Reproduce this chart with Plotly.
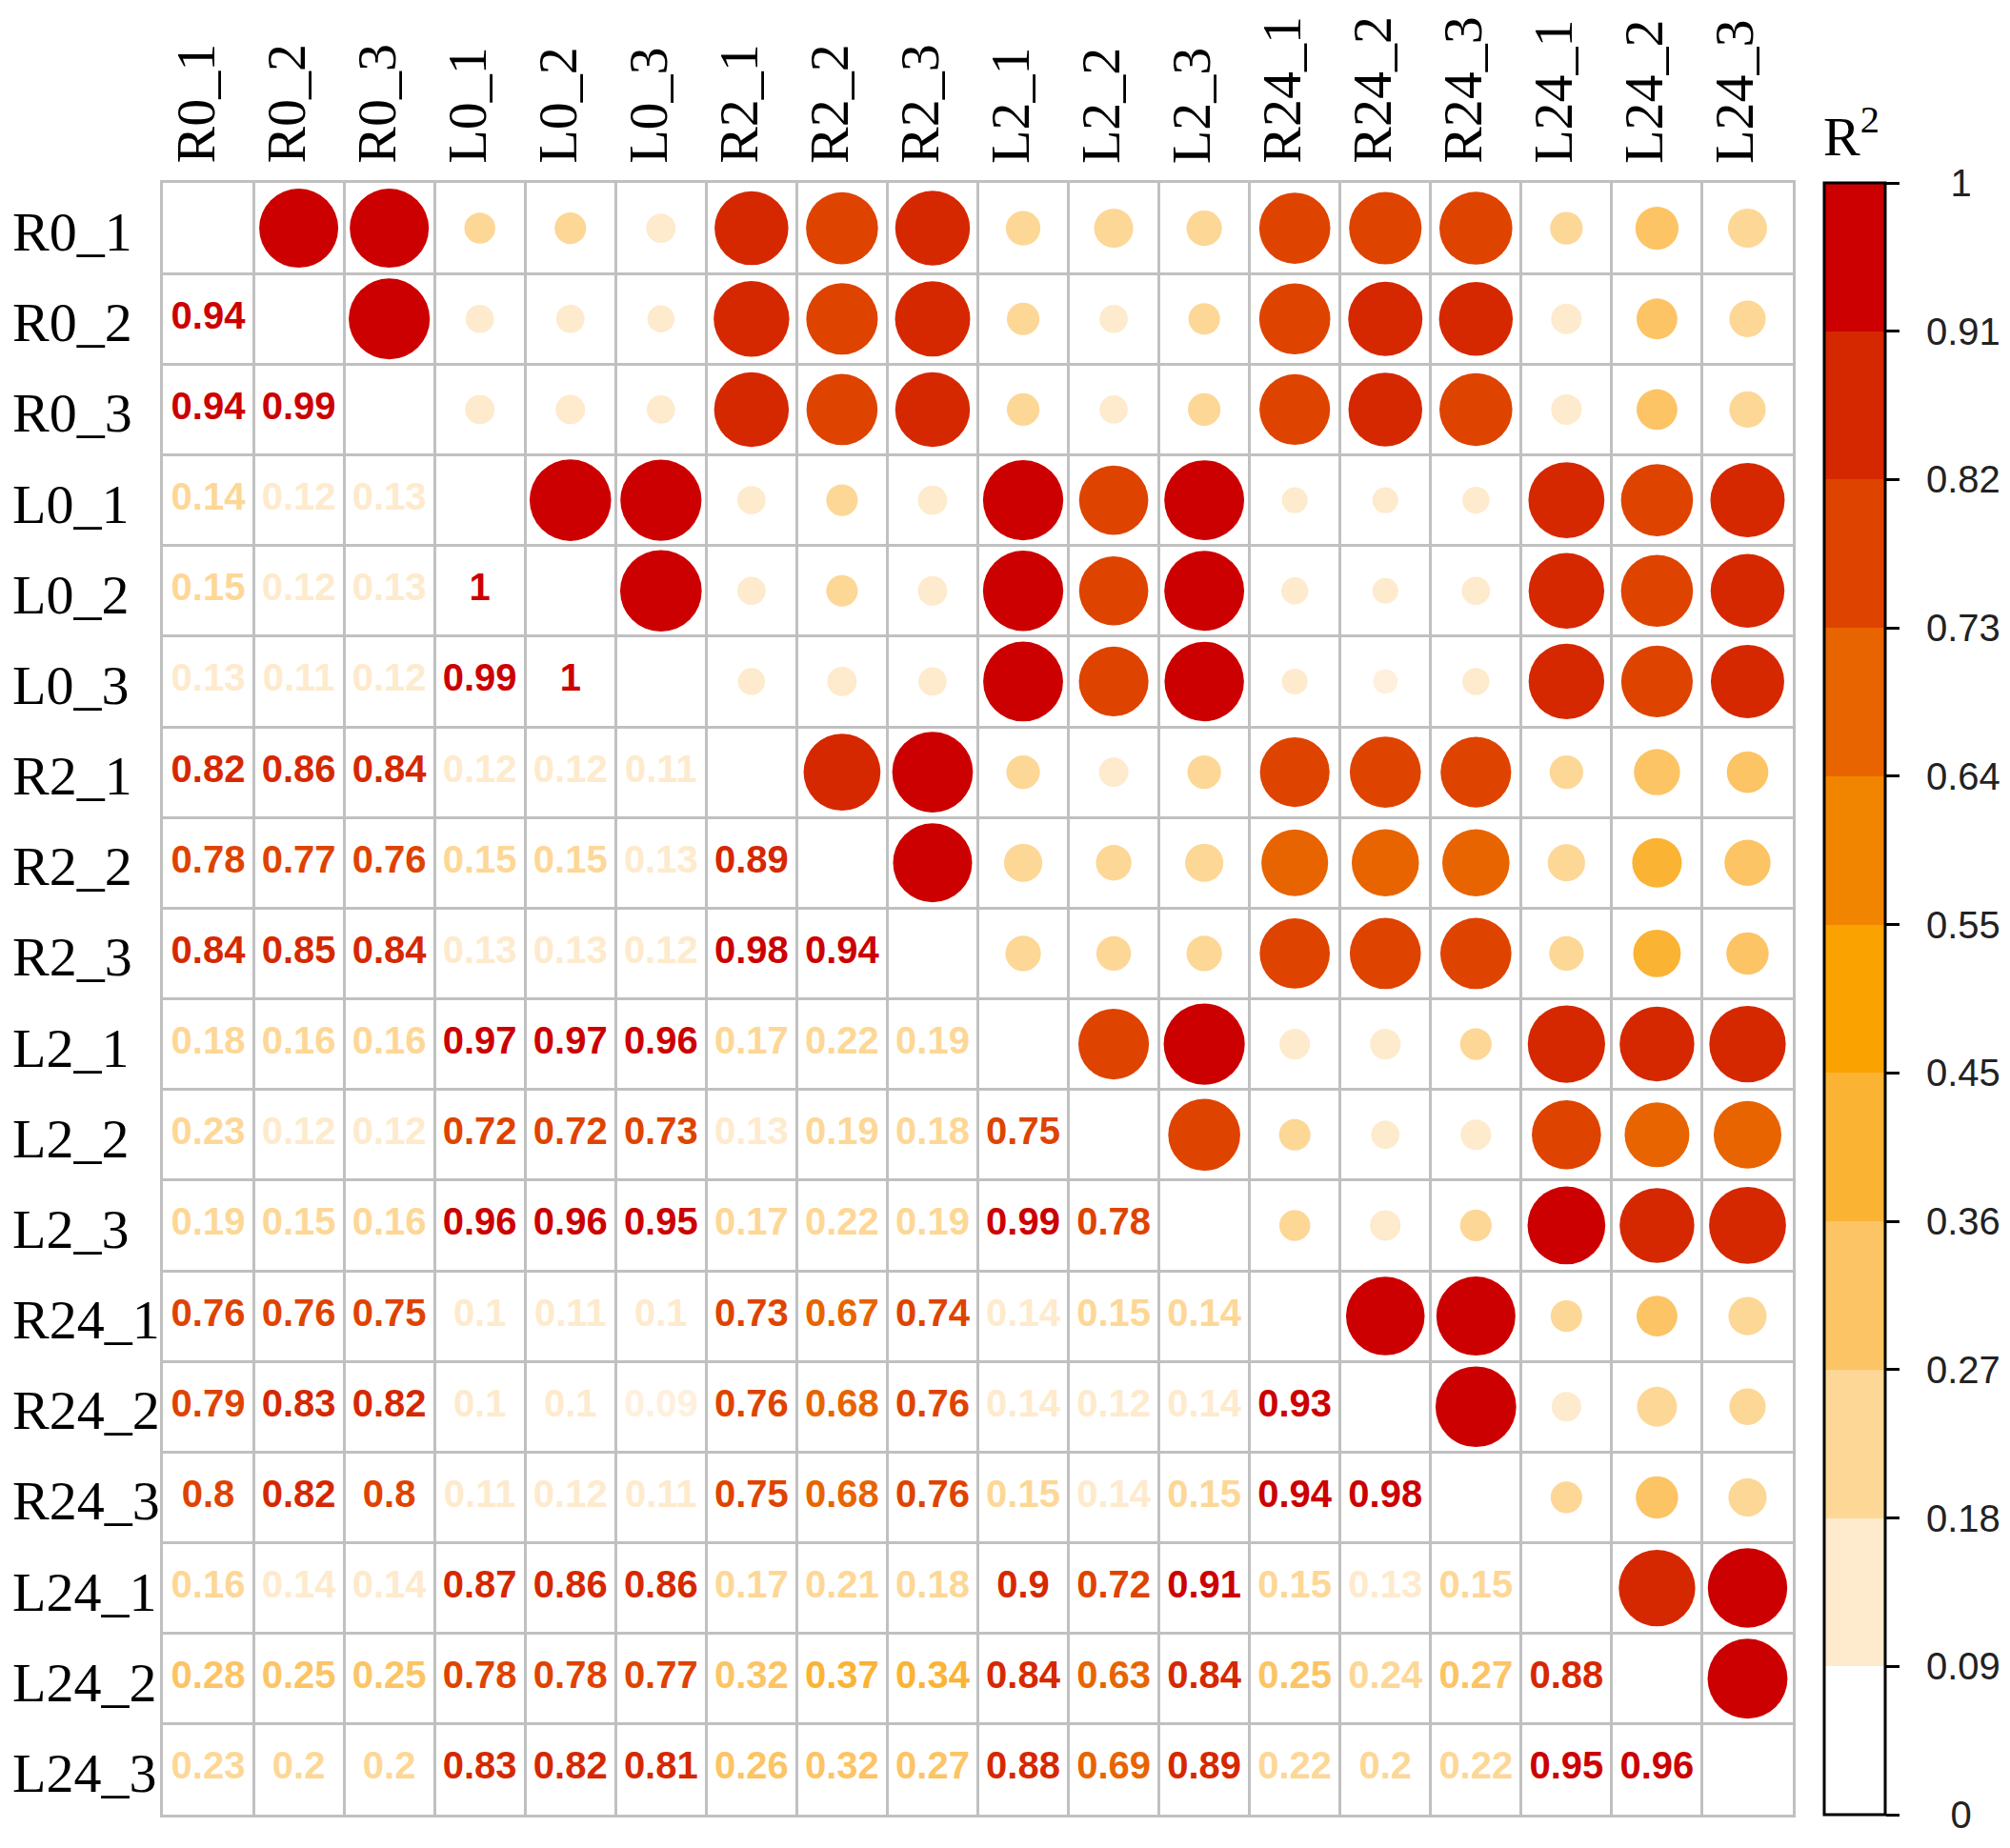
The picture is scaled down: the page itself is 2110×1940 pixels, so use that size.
import numpy as np
import plotly.graph_objects as go

labels = ["R0_1", "R0_2", "R0_3", "L0_1", "L0_2", "L0_3",
          "R2_1", "R2_2", "R2_3", "L2_1", "L2_2", "L2_3",
          "R24_1", "R24_2", "R24_3", "L24_1", "L24_2", "L24_3"]

# lower triangle of the R2 matrix, one row per sample
# (0.144 = printed as 0.14 but coloured like 0.15 in the original)
r2_lower = [
    [],
    [0.94],
    [0.94, 0.99],
    [0.144, 0.12, 0.13],
    [0.15, 0.12, 0.13, 1],
    [0.13, 0.11, 0.12, 0.99, 1],
    [0.82, 0.86, 0.84, 0.12, 0.12, 0.11],
    [0.78, 0.77, 0.76, 0.15, 0.15, 0.13, 0.89],
    [0.84, 0.85, 0.84, 0.13, 0.13, 0.12, 0.98, 0.94],
    [0.18, 0.16, 0.16, 0.97, 0.97, 0.96, 0.17, 0.22, 0.19],
    [0.23, 0.12, 0.12, 0.72, 0.72, 0.73, 0.13, 0.19, 0.18, 0.75],
    [0.19, 0.15, 0.16, 0.96, 0.96, 0.95, 0.17, 0.22, 0.19, 0.99, 0.78],
    [0.76, 0.76, 0.75, 0.1, 0.11, 0.1, 0.73, 0.67, 0.74, 0.14, 0.15, 0.144],
    [0.79, 0.83, 0.82, 0.1, 0.1, 0.09, 0.76, 0.68, 0.76, 0.14, 0.12, 0.14, 0.93],
    [0.8, 0.82, 0.8, 0.11, 0.12, 0.11, 0.75, 0.68, 0.76, 0.15, 0.14, 0.15, 0.94, 0.98],
    [0.16, 0.14, 0.14, 0.87, 0.86, 0.86, 0.17, 0.21, 0.18, 0.9, 0.72, 0.91, 0.15, 0.13, 0.15],
    [0.28, 0.25, 0.25, 0.78, 0.78, 0.77, 0.32, 0.37, 0.34, 0.84, 0.63, 0.84, 0.25, 0.24, 0.27, 0.88],
    [0.23, 0.2, 0.2, 0.83, 0.82, 0.81, 0.26, 0.32, 0.27, 0.88, 0.69, 0.89, 0.22, 0.2, 0.22, 0.95, 0.96],
]

cbar_labels = ["0", "0.09", "0.18", "0.27", "0.36", "0.45",
               "0.55", "0.64", "0.73", "0.82", "0.91", "1"]

# colour of each legend band, bottom to top
band_colors = ["#FFFFFF", "#FEEACC", "#FDD796", "#FCC464", "#FBB334", "#FAA300",
               "#F28500", "#E86400", "#DF4300", "#D62800", "#CC0000"]

# the circles and numbers use the same colours, with these cut points
mark_breaks = [0.095, 0.1425, 0.245, 0.335, 0.45, 0.55, 0.62, 0.705, 0.805, 0.905]
mark_colors = ["#FEF0DC"] + band_colors[1:]

n = len(labels)
mat = np.eye(n)
for i, row in enumerate(r2_lower):
    for j, v in enumerate(row):
        mat[i, j] = v
        mat[j, i] = v

cx, cy, cv = [], [], []
tx, ty, tv = [], [], []
for i in range(n):
    for j in range(n):
        if j > i:
            cx.append(labels[j]); cy.append(labels[i]); cv.append(mat[i, j])
        elif j < i:
            tx.append(labels[j]); ty.append(labels[i]); tv.append(mat[i, j])

nb = len(band_colors)
band_scale = []
for k, c in enumerate(band_colors):
    band_scale.append([k / nb, c])
    band_scale.append([(k + 1) / nb, c])

edges = [0.0] + mark_breaks + [1.0]
mark_scale = []
for k, c in enumerate(mark_colors):
    mark_scale.append([edges[k], c])
    mark_scale.append([edges[k + 1], c])

text_colors = [mark_colors[int(np.searchsorted(mark_breaks, v))] for v in tv]


def fmt(v):
    return f"{v:.2f}".rstrip("0").rstrip(".")


cell_px = 95.1
max_d = 0.9 * cell_px

fig = go.Figure()

fig.add_trace(go.Scatter(
    x=cx, y=cy, mode="markers",
    marker=dict(size=cv, sizemode="area", sizeref=2.0 / max_d ** 2, opacity=1,
                color=cv, colorscale=mark_scale, cmin=0, cmax=1,
                line=dict(width=0)),
    hoverinfo="skip", showlegend=False))

fig.add_trace(go.Scatter(
    x=tx, y=ty, mode="text",
    text=[fmt(v) for v in tv],
    textposition="middle center",
    textfont=dict(family="Arial, Liberation Sans, sans-serif", size=40,
                  weight="bold", color=text_colors),
    hoverinfo="skip", showlegend=False))


def pad(t):
    # centre the one-character labels like the four-character ones
    return "\u2002" + ("\u2007\u200a" + t if len(t) == 1 else t)


# dummy trace that carries the binned legend
fig.add_trace(go.Scatter(
    x=[None], y=[None], mode="markers",
    marker=dict(color=[0], cmin=0, cmax=1, colorscale=band_scale, showscale=True,
                colorbar=dict(
                    thickness=64, thicknessmode="pixels", len=1, lenmode="fraction",
                    x=1.0193, xanchor="left", y=0.5, yanchor="middle",
                    xpad=0, ypad=0, outlinewidth=3, outlinecolor="black",
                    tickvals=[k / nb for k in range(nb + 1)],
                    ticktext=[pad(t) for t in cbar_labels],
                    ticks="outside", ticklen=14, tickwidth=3, tickcolor="black",
                    tickfont=dict(family="Arial, Liberation Sans, sans-serif",
                                  size=40, color="#222222"))),
    hoverinfo="skip", showlegend=False))

serif = "Liberation Serif, Times New Roman, serif"
grid = "#C0C0C0"
axis_common = dict(
    type="category", categoryorder="array", categoryarray=labels,
    tickson="boundaries", ticks="", showgrid=True, gridcolor=grid, gridwidth=3,
    showline=True, mirror=True, linecolor=grid, linewidth=3, zeroline=False,
    fixedrange=True, showticklabels=False,
)

fig.update_xaxes(**axis_common, range=[-0.5, n - 0.5])
fig.update_yaxes(**axis_common, range=[n - 0.5, -0.5])

for lab in labels:
    fig.add_annotation(x=-0.0935, xref="paper", y=lab, yref="y", text=lab,
                       xanchor="left", yanchor="middle", yshift=-4, showarrow=False,
                       font=dict(family=serif, size=58, color="black"))
    fig.add_annotation(x=lab, xref="x", y=1.0105, yref="paper", text=lab,
                       textangle=-90, xanchor="center", yanchor="bottom", xshift=-14,
                       showarrow=False,
                       font=dict(family=serif, size=58, color="black"))

fig.add_annotation(x=1.0175, xref="paper", y=1.008, yref="paper", text="R<sup>2</sup>",
                   xanchor="left", yanchor="bottom", showarrow=False,
                   font=dict(family=serif, size=58, color="black"))

fig.update_layout(
    width=2110, height=1940,
    margin=dict(l=163, r=236, t=184, b=43),
    plot_bgcolor="white", paper_bgcolor="white",
    showlegend=False,
)

fig.write_html("out.html")
